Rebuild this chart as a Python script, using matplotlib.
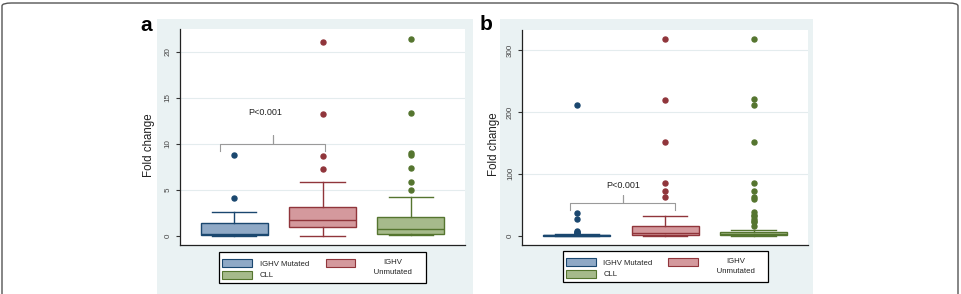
import matplotlib
matplotlib.use("Agg")
import matplotlib.pyplot as plt
from matplotlib.patches import Patch, Rectangle, FancyBboxPatch
from matplotlib.transforms import ScaledTranslation

plt.rcParams["font.family"] = ["Liberation Sans", "DejaVu Sans"]

# group names / legend labels (padding spaces mimic the wider Stata key box)
groups = ["IGHV Mutated", "IGHV\n     Unmutated     ", "CLL"]
edge_cols = ["#1a476f", "#90353b", "#55752f"]
fill_cols = ["#8fa9c6", "#d4999d", "#a6ba8b"]

# panel a: box stats (fold change)
a_whislo = [0.0, 0.0, 0.05]
a_q1 = [0.05, 0.95, 0.15]
a_med = [0.25, 1.67, 0.7]
a_q3 = [1.42, 3.1, 2.07]
a_whishi = [2.6, 5.8, 4.25]
a_fliers = [[8.8, 4.1],
            [21.1, 13.2, 8.7, 7.3],
            [21.4, 13.4, 9.0, 8.8, 7.4, 5.9, 4.95]]
a_ticks = [0, 5, 10, 15, 20]

# panel b
b_whislo = [0.0, 0.0, 0.0]
b_q1 = [0.1, 1.0, 0.3]
b_med = [0.4, 4.9, 2.0]
b_q3 = [1.5, 15.0, 6.0]
b_whishi = [2.5, 32.0, 9.7]
b_fliers = [[211, 36.5, 26.5, 8, 6.5, 5, 4],
            [318, 220, 152, 85, 72, 63],
            [318, 221, 211, 152, 85, 72, 63, 60, 38, 34, 31, 27.5, 24, 21.5, 15.5]]
b_ticks = [0, 100, 200, 300]

FW, FH = 961, 294
fig = plt.figure(figsize=(FW / 100, FH / 100), dpi=100)

# outer rounded frame
fig.patches.append(FancyBboxPatch((2 / FW, -0.2), 956 / FW, 1.2 - 3 / FH,
                                  boxstyle="round,pad=0,rounding_size=0.01",
                                  transform=fig.transFigure, fc="none", ec="#555555", lw=1.0,
                                  zorder=-2))


def px_rect(x0, y0, x1, y1):
    return [x0 / FW, 1 - y1 / FH, (x1 - x0) / FW, (y1 - y0) / FH]


def panel(bg, axbox, whislo, q1, med, q3, whishi, fliers, ticks, ylim, letter, letter_xy,
          brk, ptxt, label_xy, leg_box):
    fig.patches.append(Rectangle((bg[0] / FW, 0), (bg[1] - bg[0]) / FW, 1 - bg[2] / FH,
                                 transform=fig.transFigure, fc="#eaf2f3", ec="none", zorder=-1))
    ax = fig.add_axes(px_rect(*axbox))
    ax.set_facecolor("white")
    stats = []
    for i in range(3):
        stats.append(dict(whislo=whislo[i], q1=q1[i], med=med[i], q3=q3[i], whishi=whishi[i],
                          fliers=fliers[i]))
    parts = ax.bxp(stats, positions=[1, 2, 3], widths=0.76, patch_artist=True, capwidths=0.5)
    for i in range(3):
        parts["boxes"][i].set(facecolor=fill_cols[i], edgecolor=edge_cols[i], linewidth=1.0)
        parts["medians"][i].set(color=edge_cols[i], linewidth=1.0)
        for ln in parts["whiskers"][2 * i:2 * i + 2] + parts["caps"][2 * i:2 * i + 2]:
            ln.set(color=edge_cols[i], linewidth=1.0)
        parts["fliers"][i].set(marker="o", markersize=3.6, markerfacecolor=edge_cols[i],
                               markeredgecolor=edge_cols[i], linestyle="none")
    ax.set_xlim(0.385, 3.615)
    ax.set_ylim(*ylim)
    ax.set_yticks(ticks)
    ax.set_yticklabels([str(t) for t in ticks], rotation=90, va="center", fontsize=5.8, color="#444444")
    ax.set_xticks([])
    for t in ticks[1:]:
        ax.axhline(t, color="#e4ecee", lw=0.8, zorder=0)
    ax.tick_params(axis="y", length=3, width=0.8, color="#333333", pad=3)
    for s in ["top", "right"]:
        ax.spines[s].set_visible(False)
    for s in ["left", "bottom"]:
        ax.spines[s].set_color("#222222")
        ax.spines[s].set_linewidth(0.9)
    ax.set_ylabel("Fold change", fontsize=8.3, color="#222222")
    ax.yaxis.set_label_coords(*label_xy)
    # bracket + p value
    x0, x1, xm, ylo, yh, ytip = brk
    ax.plot([x0, x0, xm, xm, xm, x1, x1], [ylo, yh, yh, ytip, yh, yh, ylo], color="#9a9a9a", lw=0.8)
    ax.text(ptxt[0], ptxt[1], "P<0.001", fontsize=6.5, ha="center", va="center", color="#222222")
    fig.text(letter_xy[0] / FW, 1 - letter_xy[1] / FH, letter, fontsize=15, fontweight="bold",
             ha="center", va="baseline")
    handles = [Patch(facecolor=fill_cols[0], edgecolor=edge_cols[0], lw=0.8),
               Patch(facecolor=fill_cols[2], edgecolor=edge_cols[2], lw=0.8),
               Patch(facecolor=fill_cols[1], edgecolor=edge_cols[1], lw=0.8)]
    lx0, ly0, lx1, ly1 = leg_box
    leg = ax.legend(handles, [groups[0], groups[2], groups[1]], ncol=2, loc="upper left",
                    bbox_to_anchor=(lx0 / FW, 1 - ly1 / FH, (lx1 - lx0) / FW, (ly1 - ly0) / FH),
                    bbox_transform=fig.transFigure, mode="expand", borderaxespad=0,
                    fancybox=False, framealpha=1, edgecolor="black", fontsize=5.6,
                    handlelength=3.8, handleheight=1.2, handletextpad=1.0, labelspacing=0.35,
                    borderpad=0.42, columnspacing=1.0)
    leg.get_frame().set_linewidth(0.9)
    for txt in leg.get_texts():
        txt.set_multialignment("center")
        txt.set_color("#222222")
    # two-line key: first line level with its swatch, as in the original
    two = leg.get_texts()[2]
    two.set_linespacing(1.5)
    two.set_transform(two.get_transform() + ScaledTranslation(0, -3 / 72, fig.dpi_scale_trans))
    return ax


panel((157, 473, 18.5), (180, 29, 465, 245), a_whislo, a_q1, a_med, a_q3, a_whishi, a_fliers,
      a_ticks, (-1.0, 22.5), "a", (146, 31), (0.833, 2.026, 1.435, 9.2, 10.0, 11.0), (1.35, 13.4),
      (-0.088, 0.463), (219, 252, 426, 283))
panel((500, 813, 19), (522.3, 30, 808, 245), b_whislo, b_q1, b_med, b_q3, b_whishi, b_fliers,
      b_ticks, (-15.1, 332.6), "b", (486, 30), (0.927, 2.107, 1.529, 41.5, 53.4, 65.8), (1.52, 81),
      (-0.078, 0.47), (562.7, 251, 768.3, 283))

fig.savefig("out.png", dpi=100)
